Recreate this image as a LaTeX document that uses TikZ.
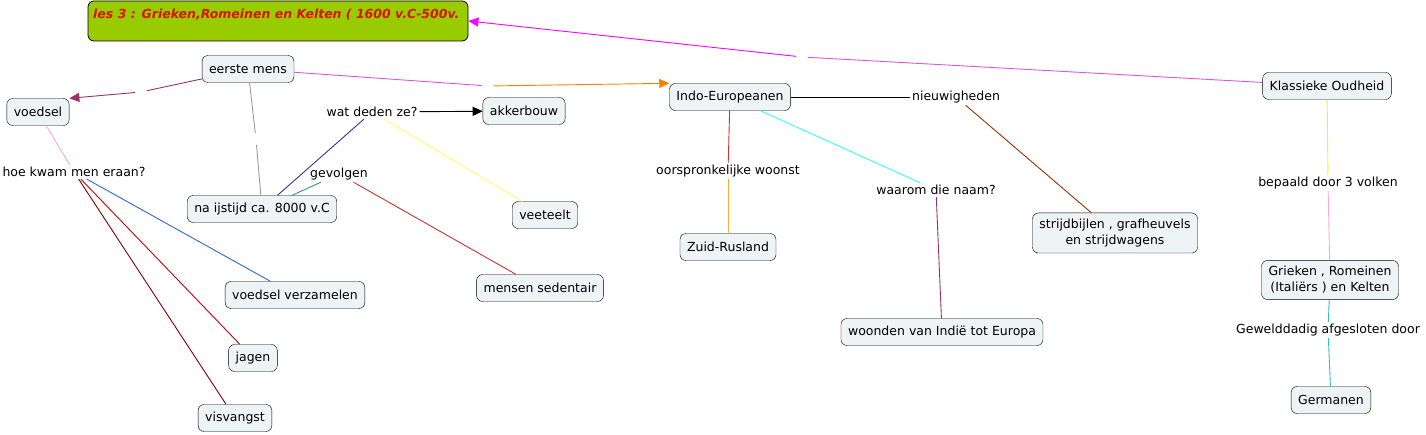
\documentclass[tikz,border=0pt]{standalone}
\usepackage{fontspec}
\setmainfont{DejaVu Sans}
\usetikzlibrary{arrows.meta,positioning}
\definecolor{boxfill}{RGB}{238,243,245}
\definecolor{titlegreen}{RGB}{153,204,0}
\definecolor{titlered}{RGB}{221,17,0}
\definecolor{plum}{RGB}{153,51,102}
\definecolor{violet}{RGB}{221,85,221}
\definecolor{darkblue}{RGB}{51,51,153}
\definecolor{lyellow}{RGB}{255,255,102}
\definecolor{sgreen}{RGB}{51,153,102}
\definecolor{lred}{RGB}{204,51,51}
\definecolor{lpink}{RGB}{255,170,204}
\definecolor{lblue}{RGB}{51,102,204}
\definecolor{maroon}{RGB}{128,0,0}
\definecolor{lorange}{RGB}{255,170,51}
\definecolor{lcyan}{RGB}{51,255,255}
\definecolor{brownish}{RGB}{153,51,0}
\definecolor{tcyan}{RGB}{51,187,204}
\definecolor{fuchsia}{RGB}{255,0,255}

\tikzset{
  concept/.style={draw=black,rounded corners=6pt,fill=boxfill,
    minimum height=27pt,inner xsep=7pt,align=center,
    font=\fontsize{12.5}{16}\selectfont},
  concepttwo/.style={concept,inner ysep=6pt},
  phrase/.style={inner sep=2pt,font=\fontsize{12.5}{14}\selectfont},
  gap/.style={circle,inner sep=4pt},
  link/.style={line width=0.9pt},
  tip/.style={-{Triangle[length=10pt,width=9pt]}}
}

\begin{document}
\begin{tikzpicture}[x=1pt,y=-1pt]
  \useasboundingbox (0,0) rectangle (1426,435);

  % titel
  \node[draw=black,rounded corners=6pt,fill=titlegreen,line width=0.8pt,
        minimum width=380pt,minimum height=40pt] (titel) at (278,21) {};
  \node[anchor=west,inner sep=0pt,text=titlered,
        font=\fontsize{12.5}{14}\selectfont\bfseries\itshape]
    (titeltxt) at (93,15) {les 3 : Grieken,Romeinen en Kelten ( 1600 v.C-500v.};

  % begrippen
  \node[concept] (eerste) at (248,69) {eerste mens};
  \node[concept] (voedsel) at (38,112) {voedsel};
  \node[concept] (akker) at (524,111) {akkerbouw};
  \node[concept] (indo) at (730,97) {Indo-Europeanen};
  \node[concept] (klass) at (1327,86) {Klassieke Oudheid};
  \node[concept] (ijstijd) at (262,209) {na ijstijd ca. 8000 v.C};
  \node[concept] (vee) at (545,215) {veeteelt};
  \node[concept] (zuid) at (728,247) {Zuid-Rusland};
  \node[concepttwo] (strijd) at (1115,233) {strijdbijlen , grafheuvels\\en strijdwagens};
  \node[concepttwo] (grieken) at (1330,280) {Grieken , Romeinen\\(Italiërs ) en Kelten};
  \node[concept] (sedent) at (540,288) {mensen sedentair};
  \node[concept] (verzam) at (295,295) {voedsel verzamelen};
  \node[concept] (woonden) at (942,332) {woonden van Indië tot Europa};
  \node[concept] (jagen) at (253,358) {jagen};
  \node[concept] (german) at (1331,400) {Germanen};
  \node[concept] (vis) at (235,418) {visvangst};

  % verbindingswoorden
  \node[phrase] (watdeden) at (372,112) {wat deden ze?};
  \node[phrase] (nieuw) at (956,97) {nieuwigheden};
  \node[phrase] (hoekwam) at (74,172) {hoe kwam men eraan?};
  \node[phrase] (gevolgen) at (339,174) {gevolgen};
  \node[phrase] (oorspr) at (728,171) {oorspronkelijke woonst};
  \node[phrase] (waarom) at (936,190) {waarom die naam?};
  \node[phrase] (bepaald) at (1328,183) {bepaald door 3 volken};
  \node[phrase] (geweld) at (1328,330) {Gewelddadig afgesloten door};

  % lege verbindingen
  \node[gap] (g1) at (141,92) {};
  \node[gap] (g2) at (256,139) {};
  \node[gap] (g3) at (488,86) {};
  \node[gap] (g4) at (802,57) {};

  % lijnen
  \draw[link,plum] (eerste) -- (g1);
  \draw[link,plum,tip] (g1) -- (voedsel.north east);
  \draw[link,gray!80] (eerste) -- (g2) -- (ijstijd);
  \draw[link,violet] (eerste) -- (g3);
  \draw[link,orange,tip] (g3) -- (indo.north west);
  \draw[link,violet] (klass) -- (g4);
  \draw[link,fuchsia,tip] (g4) -- (titel.east);

  \draw[link,darkblue] (ijstijd) -- (watdeden);
  \draw[link,black,tip] (watdeden) -- (akker);
  \draw[link,lyellow] (watdeden) -- (vee);
  \draw[link,sgreen] (ijstijd) -- (gevolgen);
  \draw[link,lred] (gevolgen) -- (sedent);

  \draw[link,lpink] (voedsel) -- (hoekwam);
  \draw[link,lblue] (hoekwam) -- (verzam);
  \draw[link,red!80!black] (hoekwam) -- (jagen);
  \draw[link,maroon] (hoekwam) -- (vis);

  \draw[link,lred] (indo) -- (oorspr);
  \draw[link,lorange] (oorspr) -- (zuid);
  \draw[link,lcyan] (indo) -- (waarom);
  \draw[link,plum] (waarom) -- (woonden);
  \draw[link,black] (indo) -- (nieuw);
  \draw[link,brownish] (nieuw) -- (strijd);

  \draw[link,yellow] (klass) -- (bepaald);
  \draw[link,lpink] (bepaald) -- (grieken);
  \draw[link,tcyan] (grieken) -- (geweld);
  \draw[link,tcyan] (geweld) -- (german);
\end{tikzpicture}
\end{document}
